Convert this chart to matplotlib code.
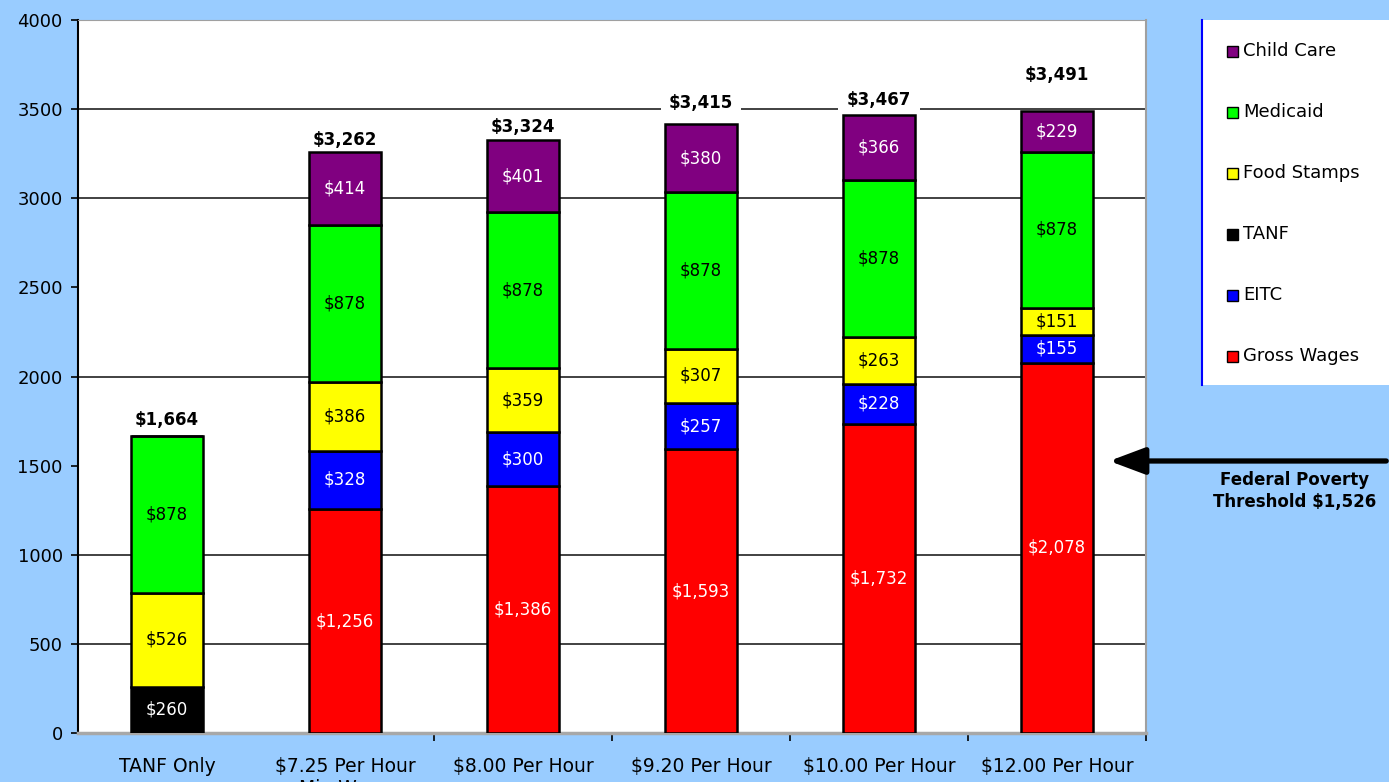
import matplotlib.pyplot as plt
from matplotlib.patches import Rectangle

categories = ['TANF Only', '$7.25 Per Hour\nMin Wage', '$8.00 Per Hour',
              '$9.20 Per Hour', '$10.00 Per Hour', '$12.00 Per Hour']
gross_wages = [0, 1256, 1386, 1593, 1732, 2078]
eitc = [0, 328, 300, 257, 228, 155]
tanf = [260, 0, 0, 0, 0, 0]
food_stamps = [526, 386, 359, 307, 263, 151]
medicaid = [878, 878, 878, 878, 878, 878]
child_care = [0, 414, 401, 380, 366, 229]
totals = [1664, 3262, 3324, 3415, 3467, 3491]
poverty_line = 1526

series = [('Gross Wages', gross_wages, '#ff0000', 'white'),
          ('EITC', eitc, '#0000ff', 'white'),
          ('TANF', tanf, '#000000', 'white'),
          ('Food Stamps', food_stamps, '#ffff00', 'black'),
          ('Medicaid', medicaid, '#00ff00', 'black'),
          ('Child Care', child_care, '#800080', 'white')]

# gap above each bar for the total label, in pixels
total_pad = [16, 12, 13, 21, 15, 36]
grid_levels = [500, 1000, 2000, 3000, 3500]

bg = '#99ccff'
fig = plt.figure(figsize=(13.89, 7.82), dpi=100, facecolor=bg)
ax = fig.add_axes([78/1389, 1-733/782, (1146-78)/1389, (733-20)/782])
ax.set_facecolor('white')

x = list(range(len(categories)))
bottom = [0]*len(categories)
for name, vals, col, tcol in series:
    ax.bar(x, vals, 0.4, bottom=bottom, color=col, edgecolor='black',
           linewidth=1.8, zorder=3)
    for i, v in enumerate(vals):
        if v > 0:
            ax.text(i, bottom[i] + v/2, f'${v:,}', ha='center', va='center',
                    color=tcol, fontsize=12, zorder=4)
    bottom = [b + v for b, v in zip(bottom, vals)]

for i, t in enumerate(totals):
    ax.annotate(f'${t:,}', (i, bottom[i]), xytext=(0, total_pad[i]),
                textcoords='offset pixels', ha='center', va='center',
                fontsize=12, fontweight='bold', zorder=2,
                bbox=dict(facecolor='white', edgecolor='none', pad=6))

for g in grid_levels:
    ax.axhline(g, color='#333333', lw=1.3, zorder=1)

ax.set_xlim(-0.5, len(categories) - 0.5)
ax.set_ylim(0, 4000)
ax.set_yticks(range(0, 4001, 500))
ax.set_xticks(x)
ax.set_xticklabels(categories, fontsize=13.5)
ax.set_xticks([1.5, 2.5, 3.5, 4.5, 5.5], minor=True)
ax.tick_params(axis='x', which='major', length=0, pad=17)
ax.tick_params(axis='x', which='minor', length=6, width=1.2, color='black', direction='out')
ax.tick_params(axis='y', labelsize=13, length=5, width=1.2, direction='out', pad=6)

ax.spines['left'].set_color('black')
ax.spines['left'].set_linewidth(1.5)
ax.spines['bottom'].set_color('#a8a8a8')
ax.spines['bottom'].set_linewidth(2.5)
ax.spines['top'].set_color('#a0a0a0')
ax.spines['right'].set_color('#a0a0a0')
ax.spines['right'].set_linewidth(1.5)

# poverty threshold arrow
ax.annotate('', xy=(0.963, poverty_line), xycoords=('axes fraction', 'data'),
            xytext=(1.0, poverty_line), textcoords=('figure fraction', 'data'),
            arrowprops=dict(arrowstyle='-|>,head_length=1.2,head_width=0.45',
                            mutation_scale=18, lw=3.8, color='black'),
            annotation_clip=False, zorder=6)
fig.text(1295/1389, 1-491/782, f'Federal Poverty\nThreshold ${poverty_line:,}',
         ha='center', va='center', fontsize=12, fontweight='bold', linespacing=1.3)

# legend box
lax = fig.add_axes([1202/1389, 1-385/782, 190/1389, 365/782])
lax.set_xlim(0, 190)
lax.set_ylim(365, 0)
lax.set_xticks([])
lax.set_yticks([])
lax.set_facecolor('white')
for s in ['top', 'bottom', 'right']:
    lax.spines[s].set_visible(False)
lax.spines['left'].set_color('#0000ff')
lax.spines['left'].set_linewidth(1.5)
for k, (name, vals, col, tcol) in enumerate(reversed(series)):
    yc = 31 + k*61
    lax.add_patch(Rectangle((25, yc - 5.5), 11, 11, facecolor=col,
                            edgecolor='black', lw=1))
    lax.text(41, yc, name, va='center', ha='left', fontsize=13)

fig.savefig('out.png', dpi=100, facecolor=bg)
